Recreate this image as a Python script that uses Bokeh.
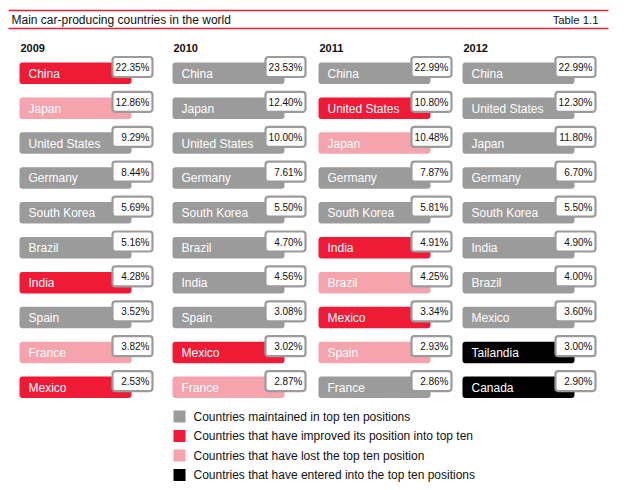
from bokeh.plotting import figure
from bokeh.models import ColumnDataSource, Range1d
from bokeh.core.properties import value
from bokeh.embed import file_html
from bokeh.resources import INLINE

# ---------------- data ----------------
title_text = "Main car-producing countries in the world"
table_label = "Table 1.1"
years = ["2009", "2010", "2011", "2012"]

countries_2009 = ["China", "Japan", "United States", "Germany", "South Korea",
                  "Brazil", "India", "Spain", "France", "Mexico"]
values_2009 = [22.35, 12.86, 9.29, 8.44, 5.69, 5.16, 4.28, 3.52, 3.82, 2.53]
status_2009 = ["improved", "lost", "kept", "kept", "kept",
               "kept", "improved", "kept", "lost", "improved"]

countries_2010 = ["China", "Japan", "United States", "Germany", "South Korea",
                  "Brazil", "India", "Spain", "Mexico", "France"]
values_2010 = [23.53, 12.40, 10.00, 7.61, 5.50, 4.70, 4.56, 3.08, 3.02, 2.87]
status_2010 = ["kept", "kept", "kept", "kept", "kept",
               "kept", "kept", "kept", "improved", "lost"]

countries_2011 = ["China", "United States", "Japan", "Germany", "South Korea",
                  "India", "Brazil", "Mexico", "Spain", "France"]
values_2011 = [22.99, 10.80, 10.48, 7.87, 5.81, 4.91, 4.25, 3.34, 2.93, 2.86]
status_2011 = ["kept", "improved", "lost", "kept", "kept",
               "improved", "lost", "improved", "lost", "kept"]

countries_2012 = ["China", "United States", "Japan", "Germany", "South Korea",
                  "India", "Brazil", "Mexico", "Tailandia", "Canada"]
values_2012 = [22.99, 12.30, 11.80, 6.70, 5.50, 4.90, 4.00, 3.60, 3.00, 2.90]
status_2012 = ["kept", "kept", "kept", "kept", "kept",
               "kept", "kept", "kept", "entered", "entered"]

legend_status = ["kept", "improved", "lost", "entered"]
legend_labels = ["Countries maintained in top ten positions",
                 "Countries that have improved its position into top ten",
                 "Countries that have lost the top ten position",
                 "Countries that have entered into the top ten positions"]

# ---------------- style / layout ----------------
status_colors = {"kept": "#9b9b9b", "improved": "#ee1a36",
                 "lost": "#f5a4ad", "entered": "#000000"}
FONT = value("Liberation Sans")
W, H = 623, 490
col_x = [19, 172, 318, 462]
row0, pitch = 62.0, 34.9
bar_w, bar_h = 112, 21.5
box_dx, box_w, box_dy, box_h = 93, 40, -5.5, 20

columns = [
    (countries_2009, values_2009, status_2009),
    (countries_2010, values_2010, status_2010),
    (countries_2011, values_2011, status_2011),
    (countries_2012, values_2012, status_2012),
]

p = figure(width=W, height=H, x_range=Range1d(0, W), y_range=Range1d(H, 0),
           output_backend="svg", toolbar_location=None,
           x_axis_location=None, y_axis_location=None,
           min_border=0, min_border_left=0, min_border_right=0,
           min_border_top=0, min_border_bottom=0)
p.grid.visible = False
p.outline_line_color = None
p.background_fill_color = "white"
p.border_fill_color = "white"

# header lines and texts
p.segment(x0=[8, 8], y0=[10, 28], x1=[608, 608], y1=[10, 28],
          line_color="#e3223c", line_width=1.3)
p.text(x=[11], y=[19], text=[title_text], text_font=FONT, text_font_size="12px",
       text_color="#111111", text_baseline="middle", text_align="left")
p.text(x=[598], y=[19], text=[table_label], text_font=FONT, text_font_size="11.3px",
       text_color="#111111", text_baseline="middle", text_align="right")

bars = dict(l=[], r=[], t=[], b=[], c=[])
boxes = dict(l=[], r=[], t=[], b=[])
names = dict(x=[], y=[], text=[])
vals = dict(x=[], y=[], text=[])
yx, yy, yt = [], [], []

for ci, (cs, vs, ss) in enumerate(columns):
    x0 = col_x[ci]
    yx.append(x0 + 1)
    yy.append(47)
    yt.append(years[ci])
    for ri, (c, v, s) in enumerate(zip(cs, vs, ss)):
        top = row0 + ri * pitch
        bars["l"].append(x0); bars["r"].append(x0 + bar_w)
        bars["t"].append(top); bars["b"].append(top + bar_h)
        bars["c"].append(status_colors[s])
        bt = top + box_dy
        boxes["l"].append(x0 + box_dx); boxes["r"].append(x0 + box_dx + box_w)
        boxes["t"].append(bt); boxes["b"].append(bt + box_h)
        names["x"].append(x0 + 9); names["y"].append(top + bar_h / 2 + 0.5)
        names["text"].append(c)
        vals["x"].append(x0 + box_dx + box_w - 3); vals["y"].append(bt + box_h / 2 + 0.5)
        vals["text"].append(f"{v:.2f}%")

p.text(x=yx, y=yy, text=yt, text_font=FONT, text_font_size="11px",
       text_font_style="bold", text_color="#111111", text_baseline="middle")

p.quad(source=ColumnDataSource(bars), left="l", right="r", top="t", bottom="b",
       fill_color="c", line_color=None, border_radius=3)
p.quad(source=ColumnDataSource(boxes), left="l", right="r", top="t", bottom="b",
       fill_color="white", line_color="#9b9b9b", line_width=2.2, border_radius=3)
p.text(source=ColumnDataSource(names), x="x", y="y", text="text", text_font=FONT,
       text_font_size="12px", text_color="white", text_baseline="middle",
       text_align="left")
p.text(source=ColumnDataSource(vals), x="x", y="y", text="text", text_font=FONT,
       text_font_size="10px", text_color="#111111", text_baseline="middle",
       text_align="right")

# legend
lg_y = [416 + i * 19.5 for i in range(len(legend_status))]
p.rect(x=[179] * len(lg_y), y=lg_y, width=12, height=12,
       fill_color=[status_colors[s] for s in legend_status], line_color=None)
p.text(x=[193] * len(lg_y), y=lg_y, text=legend_labels, text_font=FONT,
       text_font_size="12px", text_color="#111111", text_baseline="middle",
       text_align="left")

open("out.html", "w").write(file_html(p, INLINE))
